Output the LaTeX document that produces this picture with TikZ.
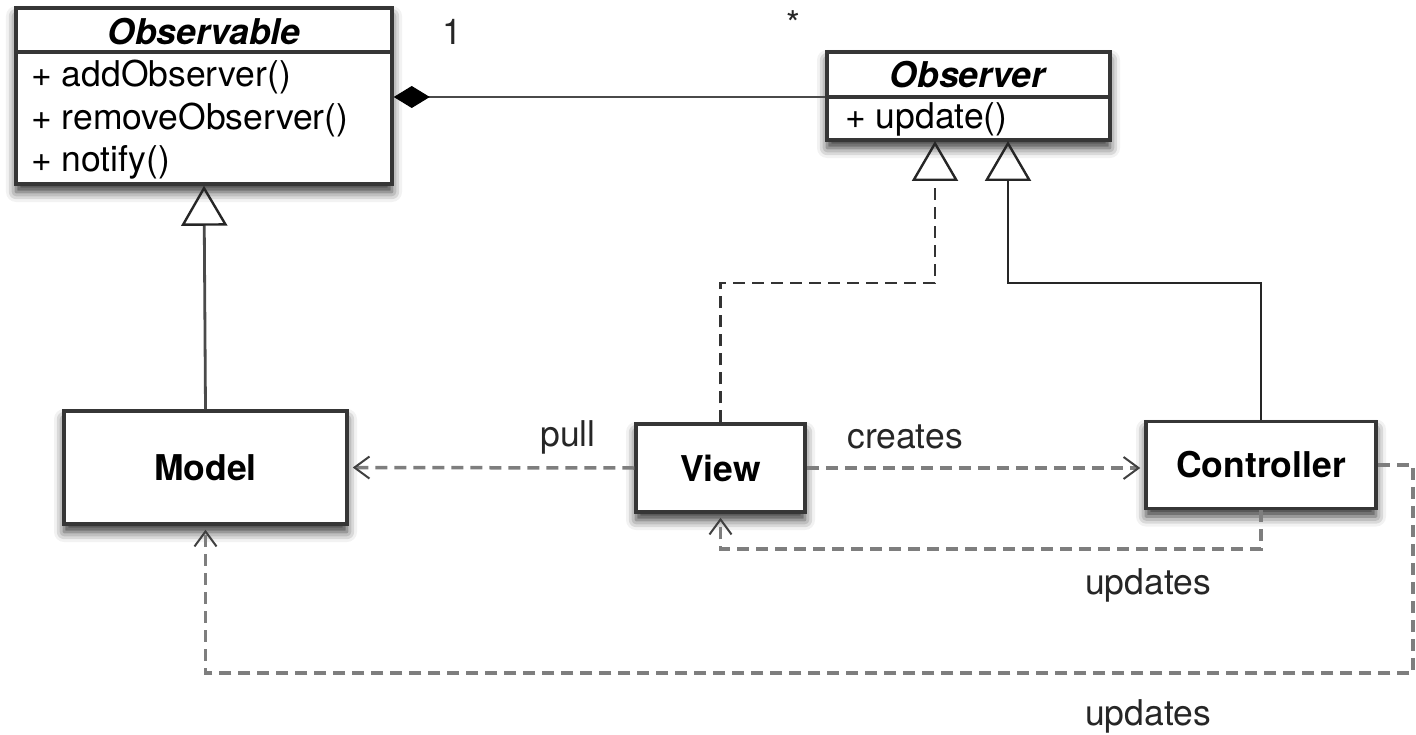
\documentclass[tikz,border=0pt]{standalone}
\usepackage{fontspec}
\setmainfont{TeX Gyre Heros}
\usetikzlibrary{arrows.meta,shadows.blur}

\definecolor{boxline}{HTML}{363636}
\definecolor{solidline}{HTML}{4A4A4A}
\definecolor{dashline}{HTML}{7E7E7E}

\begin{document}
\begin{tikzpicture}[x=1pt,y=-1pt,
  font=\fontsize{35.5}{40}\selectfont,
  umlbox/.style={draw=boxline, line width=3.5pt, fill=white, inner sep=0pt,
    blur shadow={shadow xshift=0pt, shadow yshift=-8pt,
                 shadow blur radius=10pt, shadow opacity=80}},
  sep/.style={draw=boxline, line width=3.5pt},
  member/.style={anchor=west, inner sep=0pt},
  lbl/.style={inner sep=0pt, text=black!85},
  gen/.style={line width=2.8pt, -{Triangle[open, length=40pt, width=46pt, line width=2.4pt, color=black!85]}},
  dep/.style={draw=dashline, line width=3.5pt, dash pattern=on 12pt off 7pt, shorten >=4pt,
    -{Straight Barb[length=15pt, width=22pt, line width=2pt, color=black!75]}},
  compos/.style={draw=solidline, line width=2.8pt,
    {Diamond[length=36pt, width=22pt, fill=black, color=black, line width=1pt]}-}
]
\useasboundingbox (0,0) rectangle (1416,735);

% helper levels
\coordinate (obsSep) at (0,52);
\coordinate (linkY) at (0,97);
\coordinate (genY) at (0,283);
\coordinate (loopA) at (0,549);
\coordinate (loopB) at (0,673);
\coordinate (farRight) at (1413,0);

% ---- Observable class ----
\node[umlbox, minimum width=376pt, minimum height=176pt] (obs) at (204,96) {};
\draw[sep] (obs.west |- obsSep) -- (obs.east |- obsSep);
\node[inner sep=0pt] (obsName) at (204,32) {\textbf{\textit{Observable}}};
\node[member] (obsAdd) at (31,77) {+ addObserver()};
\node[member] (obsRem) at (31,120) {+ removeObserver()};
\node[member] (obsNot) at (31,162) {+ notify()};

% ---- Observer class ----
\node[umlbox, minimum width=283pt, minimum height=88pt] (obsr) at (968.5,96) {};
\draw[sep] (obsr.west |- linkY) -- (obsr.east |- linkY);
\node[inner sep=0pt] (obsrName) at (968.5,75) {\textbf{\textit{Observer}}};
\node[member] (obsrUpd) at (845,119) {+ update()};

% ---- concrete classes ----
\node[umlbox, minimum width=283pt, minimum height=113pt] (model) at (205.5,467.5) {\textbf{Model}};
\node[umlbox, minimum width=169pt, minimum height=88pt] (view) at (720.5,468) {\textbf{View}};
\node[umlbox, minimum width=230pt, minimum height=87pt] (ctrl) at (1261,465) {\textbf{Controller}};

% ---- composition ----
\draw[compos] (obs.east |- linkY) -- (obsr.west |- linkY);
\node[lbl] (mult1) at (452,32) {1};
\node[lbl] (multN) at (793,24) {*};

% ---- generalisations ----
\coordinate (triA) at (935,141);
\coordinate (triB) at (1008,141);
\draw[gen, draw=solidline] (model.north) -- (obs.south);
\draw[gen, draw=black!80, dash pattern=on 12pt off 7pt] (view.north) -- (view.north |- genY) -- (triA |- genY) -- (triA);
\draw[gen, draw=black!85] (ctrl.north) -- (ctrl.north |- genY) -- (triB |- genY) -- (triB);

% ---- dependencies ----
\draw[dep] (view.west) -- (model.east);
\node[lbl] (pullLbl) at (568,437) {pull};
\draw[dep] (view.east) -- (view.east -| ctrl.west);
\node[lbl] (createsLbl) at (905,437) {creates};
\draw[dep] (ctrl.south) -- (ctrl.south |- loopA) -- (view.south |- loopA) -- (view.south);
\node[lbl] (upd1Lbl) at (1148,585) {updates};
\draw[dep] (ctrl.east) -- (ctrl.east -| farRight) -- (farRight |- loopB) -- (model.south |- loopB) -- (model.south);
\node[lbl] (upd2Lbl) at (1148,716) {updates};
\end{tikzpicture}
\end{document}
